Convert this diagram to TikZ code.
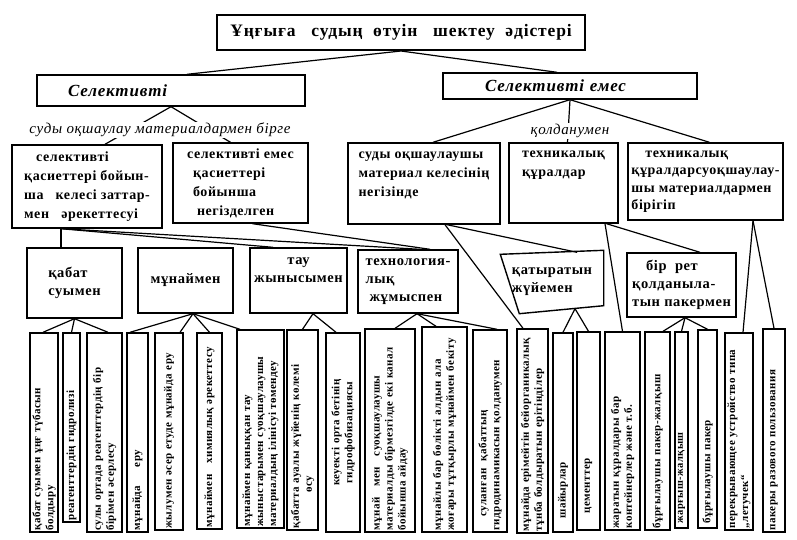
\documentclass[tikz,border=0pt]{standalone}
\usepackage{fontspec}
\setmainfont{Liberation Serif}
\newfontfamily\spaced{Liberation Serif}[LetterSpace=4]
\newfontfamily\spacedtitle{Liberation Serif}[LetterSpace=5]
\usetikzlibrary{calc}
\begin{document}
\begin{tikzpicture}[
    x=1pt, y=-1pt,
    boxline/.style = {draw, line width=1.4pt},
    topbox/.style = {boxline, line width=2pt, minimum width=368, minimum height=35, inner sep=2pt, font=\spacedtitle\fontsize{17.5}{20}\selectfont\bfseries},
    kind/.style = {boxline, align=left, inner xsep=4pt, inner ysep=1pt, font=\spacedtitle\fontsize{17}{20}\selectfont\bfseries\itshape},
    via/.style = {fill=white, inner sep=1pt, font=\spaced\fontsize{15}{17}\selectfont\itshape},
    groupbox/.style = {boxline, align=left, inner sep=2pt, font=\spaced\fontsize{14}{19}\selectfont\bfseries},
    waybox/.style = {boxline, align=left, inner sep=2pt, font=\spaced\fontsize{14.5}{18}\selectfont\bfseries},
    leaf/.style = {boxline, rotate=90, align=left, inner sep=1.5pt, font=\spaced\fontsize{11}{13}\selectfont\bfseries},
    link/.style = {line width=1.2pt}
  ]
\useasboundingbox (0,0) rectangle (797,540);

% top
\node[topbox] (title) at (401,32.5) {Ұңғыға\ \ \ судың\ \ өтуін\ \ \ шектеу\ \ әдістері};
\node[kind, minimum width=268, minimum height=31, text width=260] (sel) at (171,90.5) {\hspace*{27pt}Селективті};
\node[kind, minimum width=254, minimum height=26, text width=246] (selemes) at (570,86) {\hspace*{38pt}Селективті емес};

% second row
\node[groupbox, minimum width=150, minimum height=83] (a1) at (87,186.5) {\hspace*{12pt}селективті\\қасиеттері бойын-\\ша\ \ \ келесі заттар-\\мен\ \ \ әрекеттесуі};
\node[groupbox, minimum width=135, minimum height=80] (a2) at (240.5,183) {селективті емес\\\hspace*{6pt}қасиеттері\\\hspace*{6pt}бойынша\\\hspace*{10pt}негізделген};
\node[groupbox, minimum width=152, minimum height=81] (b1) at (424,183.5) {суды оқшаулаушы\\материал келесінің\\негізінде\\\mbox{}};
\node[groupbox, minimum width=109, minimum height=80] (b2) at (563.5,183) {техникалық\\құралдар\\\mbox{}\\\mbox{}};
\node[groupbox, minimum width=155, minimum height=77, font=\spaced\fontsize{14}{17.5}\selectfont\bfseries] (b3) at (705.5,181.5) {\hspace*{14pt}техникалық\\құралдарсуоқшаулау-\\шы материалдармен\\бірігіп};

% third row
\node[waybox, minimum width=95, minimum height=70] (c1) at (74.5,283) {қабат\\суымен};
\node[waybox, minimum width=95, minimum height=65] (c2) at (185.5,280.5) {мұнаймен};
\node[waybox, minimum width=97, minimum height=65, align=center] (c3) at (298.5,280.5) {тау\\жынысымен\\[2pt]};
\node[waybox, minimum width=100, minimum height=63] (c4) at (408,281.5) {технология-\\лық\\\hspace*{4pt}жұмыспен};
\node[waybox, draw=none, minimum width=102, minimum height=62] (c5) at (552,282) {қатыратын\\жүйемен};
\node[waybox, minimum width=109, minimum height=64] (c6) at (681.5,285) {\hspace*{14pt}бір\ \ рет\\қолданыла-\\тын пакермен};
\draw[boxline] ($(c5.north west)+(0,4)$) -- (c5.north east) -- ($(c5.south east)+(0,-8)$) -- ($(c5.south west)+(19,0)$) -- cycle;

% bottom row
\node[leaf, minimum width=199, minimum height=28, text width=196] (d1) at (44,432.5) {қабат суымен ұңғ түбасын\\болдыру};
\node[leaf, minimum width=189, minimum height=17, text width=186] (d2) at (71.5,427.5) {реагенттердің гидролизі};
\node[leaf, minimum width=199, minimum height=35, text width=196] (d3) at (104.5,432.5) {сулы ортада реагенттердің бір\\бірімен әсерлесу};
\node[leaf, minimum width=199, minimum height=21, text width=196] (d4) at (137.5,432.5) {мұнайда\quad\ \ еру};
\node[leaf, minimum width=197, minimum height=28, text width=194] (d5) at (169,431.5) {жылумен әсер етуде мұнайда еру};
\node[leaf, minimum width=196, minimum height=25, text width=193] (d6) at (209.5,431) {мұнаймен\ \ \ химиялық әрекеттесу};
\node[leaf, minimum width=198, minimum height=47, text width=195] (d7) at (260.5,429) {мұнаймен қаныққан тау\\жыныстарымен суоқшаулаушы\\материалдың ілінісуі төмендеу};
\node[leaf, minimum width=200, minimum height=31, text width=197] (d8) at (302.5,430) {қабатта ауалы жүйенің көлемі\\\hspace*{36pt}өсу};
\node[leaf, minimum width=199, minimum height=34, text width=196, align=center] (d9) at (343,432.5) {кеуекті орта бетінің\\гидрофобизациясы};
\node[leaf, minimum width=203, minimum height=50, text width=200] (d10) at (390,430.5) {мұнай\ \ \ мен\ \ \ суоқшаулаушы\\материалды бірмезгілде екі канал\\бойынша айдау};
\node[leaf, minimum width=205, minimum height=45, text width=202] (d11) at (444.5,429.5) {мұнайлы бар бөлікті алдын ала\\жоғары тұтқырлы мұнаймен бекіту};
\node[leaf, minimum width=202, minimum height=34, text width=199] (d12) at (490,431) {\hspace*{14pt}суланған\ \ қабаттың\\гидродинамикасын қолданумен};
\node[leaf, minimum width=204, minimum height=31, text width=201] (d13) at (532.5,431) {мұнайда ерімейтін бейорганикалық\\тұнба болдыратын ерітінділер};
\node[leaf, minimum width=199, minimum height=20, text width=196] (d14) at (563,432.5) {\hspace*{12pt}шайырлар};
\node[leaf, minimum width=198, minimum height=23, text width=195] (d15) at (588.5,431) {\hspace*{15pt}цементтер};
\node[leaf, minimum width=198, minimum height=35, text width=195] (d16) at (622.5,431) {жаратын құралдары бар\\контейнерлер және т.б.};
\node[leaf, minimum width=198, minimum height=25, text width=195] (d17) at (657.5,431) {бұрғылаушы пакер-жалқыш};
\node[leaf, minimum width=196, minimum height=13, text width=193, inner ysep=0.3pt, font=\spaced\fontsize{10.5}{13}\selectfont\bfseries] (d18) at (681.5,430) {\hspace*{3pt}жарғыш-жалқыш};
\node[leaf, minimum width=198, minimum height=19, text width=195] (d19) at (707.5,429) {\hspace*{3pt}бұрғылаушы пакер};
\node[leaf, minimum width=197, minimum height=28, text width=194] (d20) at (739,431.5) {перекрывающее устройство типа\\„летучек“};
\node[leaf, minimum width=203, minimum height=22, text width=200] (d21) at (774,430.5) {пакеры разового пользования};

% connectors
\draw[link] (title.south) -- ([xshift=16]sel.north);
\draw[link] (title.south) -- ([xshift=-13]selemes.north);
\draw[link] (sel.south) -- ([xshift=18]a1.north);
\draw[link] (sel.south) -- ([xshift=-10]a2.north);
\draw[link] (selemes.south) -- ([xshift=9]b1.north);
\draw[link] (selemes.south) -- ([xshift=4]b2.north);
\draw[link] (selemes.south) -- ([xshift=4]b3.north);
\node[via] (way1) at (160,130) {суды оқшаулау материалдармен бірге};
\node[via] (way2) at (570,131) {қолданумен};

\draw[link] ([xshift=-26]a1.south) -- ([xshift=-13.5]c1.north);
\draw[link] ([xshift=-26]a1.south) -- ([xshift=-25.5]c3.north);
\draw[link] ([xshift=-26]a1.south) -- ([xshift=12]c4.north);
\draw[link] ([xshift=12]a2.south) -- ([xshift=22]c4.north);
\draw[link] ([xshift=23]b1.south) -- ([xshift=25,yshift=-2]c5.north);
\draw[link] ([xshift=21]b1.south) -- ([xshift=-9.5]d13.east);
\draw[link] ([xshift=41.5]b2.south) -- (d16.east);
\draw[link] ([xshift=43]b2.south) -- ([xshift=18.5]c6.north);
\draw[link] ([xshift=47.5]b3.south) -- ([xshift=4]d20.east);
\draw[link] ([xshift=47.5]b3.south) -- (d21.east);

\draw[link] (c1.south) -- ([xshift=-1]d1.east);
\draw[link] (c1.south) -- (d2.east);
\draw[link] (c1.south) -- ([xshift=3.5]d3.east);
\draw[link] ([xshift=7.5]c2.south) -- ([xshift=-7.5]d4.east);
\draw[link] ([xshift=7.5]c2.south) -- ([xshift=11]d5.east);
\draw[link] ([xshift=7.5]c2.south) -- (d6.east);
\draw[link] ([xshift=7.5]c2.south) -- ([xshift=-20.5]d7.east);
\draw[link] ([xshift=14.5]c3.south) -- (d8.east);
\draw[link] ([xshift=14.5]c3.south) -- ([xshift=-7]d9.east);
\draw[link] ([xshift=9]c4.south) -- ([xshift=5]d10.east);
\draw[link] ([xshift=9]c4.south) -- ([xshift=-8.5]d11.east);
\draw[link] ([xshift=9]c4.south) -- ([xshift=7]d12.east);
\draw[link] ([xshift=23,yshift=5]c5.south) -- (d14.east);
\draw[link] ([xshift=23,yshift=5]c5.south) -- (d15.east);
\draw[link] ([xshift=3.5]c6.south) -- ([xshift=5.5]d17.east);
\draw[link] ([xshift=3.5]c6.south) -- (d18.east);
\draw[link] ([xshift=3.5]c6.south) -- (d19.east);
\end{tikzpicture}
\end{document}
